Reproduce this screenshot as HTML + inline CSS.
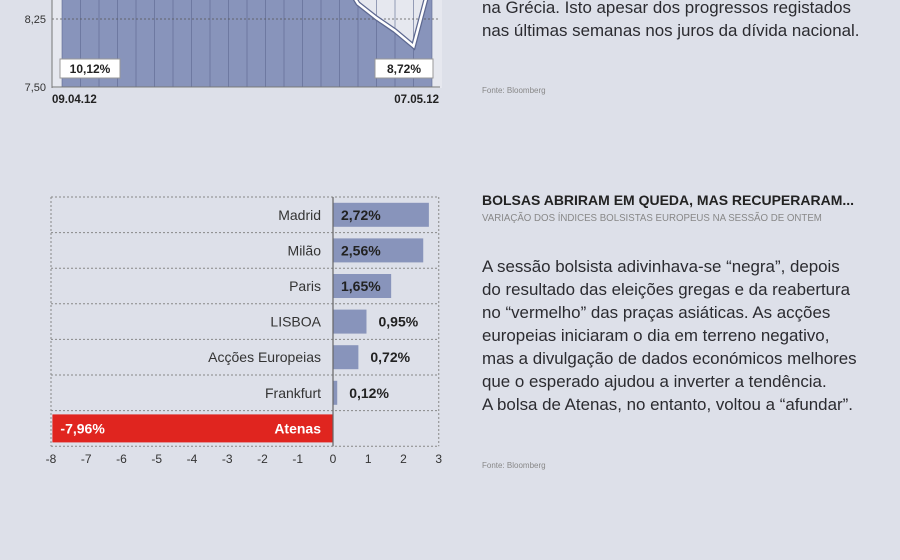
<!DOCTYPE html>
<html><head><meta charset="utf-8">
<style>
body{margin:0;width:900px;height:560px;background:#dde0e9;overflow:hidden;position:relative;font-family:"Liberation Sans",sans-serif;}
.t{position:absolute;color:#2a2a2e;white-space:nowrap;}
.p{font-size:16.9px;line-height:23px;color:#2b2b30;}
.src{font-size:8px;color:#888;}
</style></head><body>
<svg width="460" height="110" style="position:absolute;left:0;top:0" font-family="Liberation Sans, sans-serif">
<g id="yc"></g>
</svg>
<div class="t p" style="left:482px;top:-4px">na Grécia. Isto apesar dos progressos registados<br>nas últimas semanas nos juros da dívida nacional.</div>
<div class="t src" style="left:482px;top:86px">Fonte: Bloomberg</div>

<svg width="460" height="480" style="position:absolute;left:0;top:0" font-family="Liberation Sans, sans-serif">
<g id="bc"></g>
</svg>
<div class="t" style="left:482px;top:192px;font-weight:bold;font-size:14px;color:#222">BOLSAS ABRIRAM EM QUEDA, MAS RECUPERARAM...</div>
<div class="t" style="left:482px;top:213px;font-size:9.7px;color:#888">VARIAÇÃO DOS ÍNDICES BOLSISTAS EUROPEUS NA SESSÃO DE ONTEM</div>
<div class="t p" style="left:482px;top:255px">A sessão bolsista adivinhava-se “negra”, depois<br>do resultado das eleições gregas e da reabertura<br>no “vermelho” das praças asiáticas. As acções<br>europeias iniciaram o dia em terreno negativo,<br>mas a divulgação de dados económicos melhores<br>que o esperado ajudou a inverter a tendência.<br>A bolsa de Atenas, no entanto, voltou a “afundar”.</div>
<div class="t src" style="left:482px;top:461px">Fonte: Bloomberg</div>
<script>
const NS="http://www.w3.org/2000/svg";
function mk(p,tag,a,txt){const e=document.createElementNS(NS,tag);for(const k in a)e.setAttribute(k,a[k]);if(txt!=null)e.textContent=txt;p.appendChild(e);return e;}
// ---- yield chart data ----
const yieldValues=[10.12,10.0,9.9,9.95,9.85,9.8,9.9,9.7,9.75,9.6,9.5,9.4,9.3,9.2,9.0,8.75,8.42,8.26,8.12,7.95,8.72];
const yieldTicks=[7.50,8.25];
const yieldTickLabels=["7,50","8,25"];
const yieldDates=["09.04.12","07.05.12"];
const yieldLabels=["10,12%","8,72%"];
// ---- stocks data ----
const markets=["Madrid","Milão","Paris","LISBOA","Acções Europeias","Frankfurt","Atenas"];
const changes=[2.72,2.56,1.65,0.95,0.72,0.12,-7.96];
const changeLabels=["2,72%","2,56%","1,65%","0,95%","0,72%","0,12%","-7,96%"];
const xTicks=[-8,-7,-6,-5,-4,-3,-2,-1,0,1,2,3];

(function(){
const g=document.getElementById('yc');
const x0=62,x1=432,n=yieldValues.length;
const X=i=>x0+i*(x1-x0)/(n-1);
const Y=v=>87-(v-7.5)*90.7;
mk(g,'rect',{x:52,y:0,width:390,height:88,fill:'#e6e8ef'});
let d='M'+x0+','+Y(7.5);
yieldValues.forEach((v,i)=>d+=' L'+X(i)+','+Y(v));
d+=' L'+x1+','+Y(7.5)+'Z';
const a=mk(g,'path',{d:d,fill:'#8894bb'});
for(let i=0;i<n;i++){mk(g,'line',{x1:X(i),x2:X(i),y1:0,y2:87,stroke:'#5d6890','stroke-width':1,opacity:0.6});}
yieldTicks.forEach((t,i)=>{
 if(i>0)mk(g,'line',{x1:52,x2:440,y1:Y(t),y2:Y(t),stroke:'#555','stroke-dasharray':'2,2','stroke-width':0.8});
 const tl=mk(g,'text',{x:46,y:Y(t)+4,'text-anchor':'end','font-size':11,fill:'#333'},yieldTickLabels[i]);
 
});
let pl='';yieldValues.forEach((v,i)=>pl+=(i?' L':'M')+X(i)+','+Y(v));
mk(g,'path',{d:pl,fill:'none',stroke:'#5d6890','stroke-width':5});
const ln=mk(g,'path',{d:pl,fill:'none',stroke:'#fff','stroke-width':2.5});

mk(g,'line',{x1:52,x2:52,y1:0,y2:88,stroke:'#777'});
mk(g,'line',{x1:52,x2:440,y1:87,y2:87,stroke:'#777'});
const boxes=[[60,60],[375,58]];
boxes.forEach(([bx,bw],k)=>{
 const r=mk(g,'rect',{x:bx,y:59,width:bw,height:19,fill:'#fff',stroke:'#999'});
 
 const t=mk(g,'text',{x:bx+bw/2,y:73,'text-anchor':'middle','font-size':12,'font-weight':'bold',fill:'#222'},yieldLabels[k]);
 
});
yieldDates.forEach((dt,k)=>{const t=mk(g,'text',{x:k?439:52,y:103,'text-anchor':k?'end':'start','font-size':11.5,'font-weight':'bold',fill:'#222'},dt);
});
})();

(function(){
const g=document.getElementById('bc');
const X=v=>333+v*35.25;
const top=197,rh=35.6,bh=24;
const frameB=top+rh*markets.length;
mk(g,'line',{x1:X(-8),x2:X(-8),y1:top,y2:frameB,stroke:'#888','stroke-dasharray':'2,2'});
mk(g,'line',{x1:X(3),x2:X(3),y1:top,y2:frameB,stroke:'#888','stroke-dasharray':'2,2'});
for(let i=0;i<=markets.length;i++)mk(g,'line',{x1:X(-8),x2:X(3),y1:top+i*rh,y2:top+i*rh,stroke:'#888','stroke-dasharray':'2,2'});
markets.forEach((m,i)=>{
 const v=changes[i],cy=top+rh*i+rh/2;
 const neg=v<0;
 const r=mk(g,'rect',{x:Math.min(X(0),X(v)),y:cy-bh/2-(neg?2:0),width:Math.abs(X(v)-X(0)),height:bh+(neg?4:0),fill:neg?'#e0251f':'#8894bb'});
 
 const nm=mk(g,'text',{x:X(0)-12,y:cy+5,'text-anchor':'end','font-size':14,fill:neg?'#fff':'#333','font-weight':neg?'bold':'normal'},m);
 
 let lx;
 if(neg){lx=X(v)+8;}else if(X(v)-X(0)>50){lx=X(0)+8;}else{lx=X(v)+12;}
 const vl=mk(g,'text',{x:lx,y:cy+5,'font-size':14,'font-weight':'bold',fill:neg?'#fff':'#222'},changeLabels[i]);
 
});
mk(g,'line',{x1:X(0),x2:X(0),y1:top,y2:frameB,stroke:'#666','stroke-width':1.2});
xTicks.forEach(t=>{const e=mk(g,'text',{x:X(t),y:frameB+17,'text-anchor':'middle','font-size':12,fill:'#333'},String(t));
});
})();
</script>
</body></html>
